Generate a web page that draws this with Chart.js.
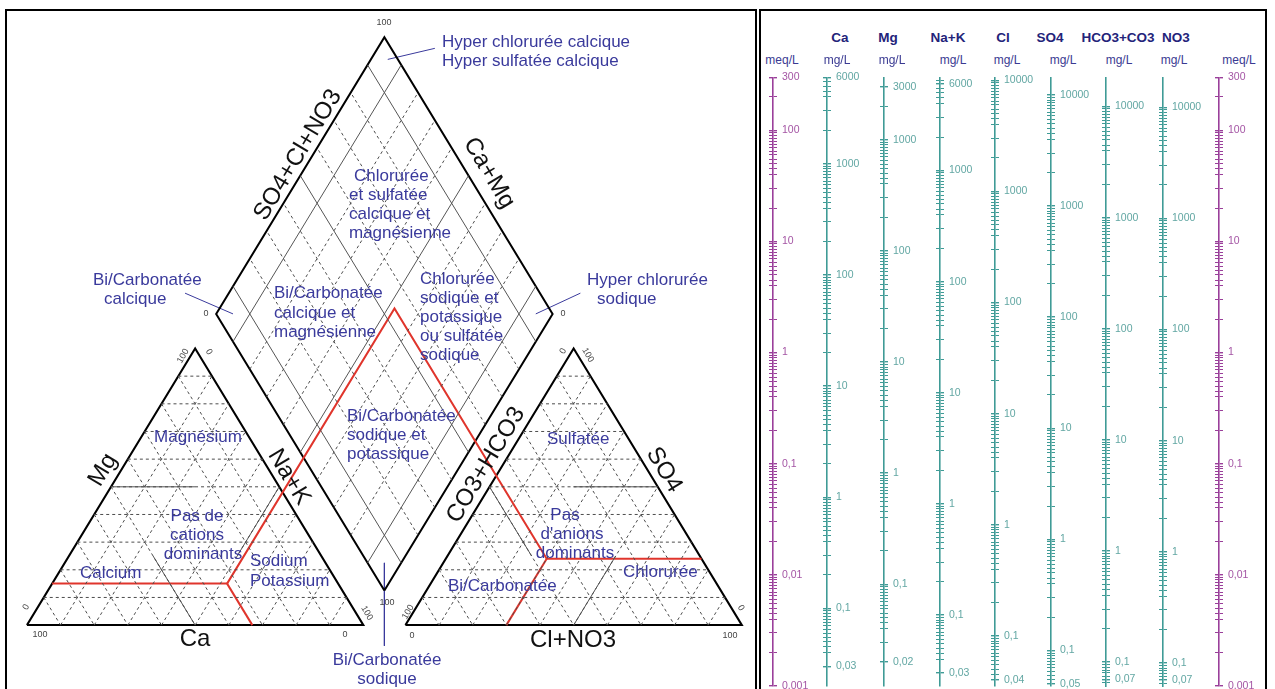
<!DOCTYPE html>
<html>
<head>
<meta charset="utf-8">
<title>Diagramme de Piper et échelles de conversion</title>
<script src="https://cdn.jsdelivr.net/npm/chart.js@4.4.1/dist/chart.umd.min.js"></script>
<style>
  html, body { margin: 0; padding: 0; background: #fff; }
  body { width: 1275px; height: 689px; overflow: hidden; position: relative;
         font-family: "Liberation Sans", Arial, sans-serif; }
  .frame { position: absolute; border: 2px solid #000; box-sizing: content-box; }
  #piperFrame { left: 5px; top: 9px; width: 748px; height: 700px; }
  #scaleFrame { left: 759px; top: 9px; width: 504px; height: 700px; }
  #piper { position: absolute; left: 0; top: 0; }
  .axisCanvas { position: absolute; }
  .ion { position: absolute; top: 30px; transform: translateX(-50%); font-weight: bold;
         font-size: 13.5px; color: #23237a; white-space: nowrap; }
  .unit { position: absolute; top: 53px; transform: translateX(-50%); font-size: 12px;
          color: #3a3a92; white-space: nowrap; }
</style>
</head>
<body>
<div id="piperFrame" class="frame"></div>
<div id="scaleFrame" class="frame"></div>
<canvas id="piper" width="757" height="689"></canvas>

<script>
// ---------------- Piper diagram (percentages of meq/L) ----------------
const gridPercents = [10, 20, 30, 40, 50, 60, 70, 80, 90];
const diamondMainLines = [10, 50, 90];
const diamondMinorLines = [20, 30, 40, 60, 70, 80];
const halfLine = 50;
const cationDivide = { ca: 33, mg: 15, nak: 52 };
const anionDivide = { hco3: 46, so4: 24, cl: 30 };

// ---------------- Conversion scales ----------------
const ionNames = ['', 'Ca', 'Mg', 'Na+K', 'Cl', 'SO4', 'HCO3+CO3', 'NO3', ''];
const unitNames = ['meq/L', 'mg/L', 'mg/L', 'mg/L', 'mg/L', 'mg/L', 'mg/L', 'mg/L', 'meq/L'];
const mgPerMeq = [1, 20.04, 12.15, 22.99, 35.45, 48.03, 61.02, 62.0, 1];
const meqSpan = [0.001, 300];
const tickMantissas = [1, 2, 3, 4, 4.5, 5, 5.5, 6, 6.5, 7, 7.5, 8, 8.5, 9, 9.5];
const labelledTicks = [
  [300, 100, 10, 1, 0.1, 0.01, 0.001],
  [6000, 1000, 100, 10, 1, 0.1, 0.03],
  [3000, 1000, 100, 10, 1, 0.1, 0.02],
  [6000, 1000, 100, 10, 1, 0.1, 0.03],
  [10000, 1000, 100, 10, 1, 0.1, 0.04],
  [10000, 1000, 100, 10, 1, 0.1, 0.05],
  [10000, 1000, 100, 10, 1, 0.1, 0.07],
  [10000, 1000, 100, 10, 1, 0.1, 0.07],
  [300, 100, 10, 1, 0.1, 0.01, 0.001]
];

// ---------------- layout (pixels) ----------------
const axisX = [773, 827, 884, 940, 995, 1051, 1106, 1163, 1219];
const ionX = [0, 840, 888, 948, 1003, 1050, 1118, 1176, 0];
const unitX = [782, 837, 892, 953, 1007, 1063, 1119, 1174, 1239];

// ---------------- ternary geometry ----------------
const H = Math.sqrt(3) / 2;
const GAP = 12.5;
const base = { x: 100 + GAP / 2, y: GAP * H };
const cationXY = (ca, mg, nak) => ({ x: nak + mg / 2, y: mg * H });
const anionXY = (hco3, so4, cl) => ({ x: 100 + GAP + cl + so4 / 2, y: so4 * H });
// a = Ca+Mg, b = SO4+Cl+NO3
const diamondXY = (a, b) => ({ x: base.x + (b - a) / 2, y: base.y + (a + b) * H });

const INK = '#000000';
const GRID = '#4d4d4d';
const RED = '#e0352c';
const NAVY = '#3a3a9c';

const datasets = [];
function line(points, style) {
  datasets.push(Object.assign({
    data: points, showLine: true, pointRadius: 0, fill: false,
    borderColor: GRID, borderWidth: 1, borderDash: []
  }, style));
}
const dashed = { borderColor: GRID, borderWidth: 1, borderDash: [3, 3] };
const solid = { borderColor: '#555555', borderWidth: 1 };

// triangle grids
gridPercents.forEach(v => {
  line([cationXY(100 - v, v, 0), cationXY(0, v, 100 - v)], dashed);
  line([cationXY(v, 100 - v, 0), cationXY(v, 0, 100 - v)], dashed);
  line([cationXY(100 - v, 0, v), cationXY(0, 100 - v, v)], dashed);
  line([anionXY(100 - v, v, 0), anionXY(0, v, 100 - v)], dashed);
  line([anionXY(v, 100 - v, 0), anionXY(v, 0, 100 - v)], dashed);
  line([anionXY(100 - v, 0, v), anionXY(0, 100 - v, v)], dashed);
});
// diamond grid
diamondMinorLines.forEach(v => {
  line([diamondXY(v, 0), diamondXY(v, 100)], dashed);
  line([diamondXY(0, v), diamondXY(100, v)], dashed);
});
diamondMainLines.forEach(v => {
  line([diamondXY(v, 0), diamondXY(v, 100)], solid);
  line([diamondXY(0, v), diamondXY(100, v)], solid);
});
// half-way segments inside the triangles
const h = halfLine, q = halfLine / 2;
line([cationXY(h, h, 0), cationXY(q, h, q)], solid);
line([cationXY(h, 0, h), cationXY(h, q, q)], solid);
line([cationXY(0, h, h), cationXY(q, q, h)], solid);
line([anionXY(0, h, h), anionXY(q, h, q)], solid);
line([anionXY(h, 0, h), anionXY(q, q, h)], solid);
line([anionXY(h, h, 0), anionXY(h, q, q)], solid);

// facies boundaries
const redStyle = { borderColor: RED, borderWidth: 2 };
const cJ = cationXY(cationDivide.ca, cationDivide.mg, cationDivide.nak);
const aJ = anionXY(anionDivide.hco3, anionDivide.so4, anionDivide.cl);
const peak = diamondXY(100 - cationDivide.nak, 100 - anionDivide.hco3);
line([cationXY(100 - cationDivide.mg, cationDivide.mg, 0), cJ], redStyle);
line([cJ, cationXY(cationDivide.ca, 0, 100 - cationDivide.ca)], redStyle);
line([cJ, peak, aJ], redStyle);
line([aJ, anionXY(0, anionDivide.so4, 100 - anionDivide.so4)], redStyle);
line([aJ, anionXY(100 - anionDivide.cl, 0, anionDivide.cl)], redStyle);

// outlines
const edge = { borderColor: INK, borderWidth: 2 };
line([cationXY(100, 0, 0), cationXY(0, 0, 100), cationXY(0, 100, 0), cationXY(100, 0, 0)], edge);
line([anionXY(100, 0, 0), anionXY(0, 0, 100), anionXY(0, 100, 0), anionXY(100, 0, 0)], edge);
line([diamondXY(0, 0), diamondXY(100, 0), diamondXY(100, 100), diamondXY(0, 100), diamondXY(0, 0)], edge);

// pointers to the corner facies
const pointer = { borderColor: NAVY, borderWidth: 1 };
line([diamondXY(95, 97), diamondXY(83, 113)], pointer);
line([diamondXY(95, 5), diamondXY(113, -5.5)], pointer);
line([diamondXY(5, 95), diamondXY(-4.5, 112)], pointer);
line([diamondXY(5, 5), diamondXY(-10, -10)], pointer);

// text drawn on the diagram
const F = '"Liberation Sans", Arial, sans-serif';
const T = (text, x, y, o) => Object.assign({ text, x, y, size: 17, color: NAVY, align: 'left', rot: 0, bold: false }, o || {});
const C = { align: 'center' };
const axisT = (text, x, y, rot) => T(text, x, y, { size: 24, color: '#111', align: 'center', rot });
const num = (text, x, y, rot) => T(text, x, y, { size: 9, color: '#444', align: 'center', rot: rot || 0 });
const piperTexts = [
  T('Hyper chlorurée calcique', 442, 42), T('Hyper sulfatée calcique', 442, 61),
  T('Chlorurée', 354, 176), T('et sulfatée', 349, 195), T('calcique et', 349, 214), T('magnésienne', 349, 233),
  T('Bi/Carbonatée', 274, 293), T('calcique et', 274, 313), T('magnésienne', 274, 332),
  T('Chlorurée', 420, 279), T('sodique et', 420, 298), T('potassique', 420, 317), T('ou sulfatée', 420, 336), T('sodique', 420, 355),
  T('Bi/Carbonatée', 347, 416), T('sodique et', 347, 435), T('potassique', 347, 454),
  T('Bi/Carbonatée', 93, 280), T('calcique', 104, 299),
  T('Hyper chlorurée', 587, 280), T('sodique', 597, 299),
  T('Bi/Carbonatée', 387, 660, C), T('sodique', 387, 679, C),
  T('Magnésium', 198, 437, C),
  T('Pas de', 197, 516, C), T('cations', 197, 535, C), T('dominants', 203, 554, C),
  T('Calcium', 80, 573), T('Sodium', 250, 561), T('Potassium', 250, 581),
  T('Sulfatée', 547, 439),
  T('Pas', 565, 515, C), T("d'anions", 572, 534, C), T('dominants', 575, 553, C),
  T('Chlorurée', 623, 572), T('Bi/Carbonatée', 448, 586),
  axisT('SO4+Cl+NO3', 298, 155, -59), axisT('Ca+Mg', 489, 173, 59),
  axisT('Mg', 103, 470, -59), axisT('Na+K', 289, 477, 59), axisT('Ca', 195, 639, 0),
  axisT('CO3+HCO3', 486, 465, -59), axisT('SO4', 664, 470, 59), axisT('Cl+NO3', 573, 640, 0),
  num('100', 384, 23), num('0', 206, 314), num('0', 563, 314), num('100', 387, 603),
  num('100', 183, 356, -60), num('0', 209, 352, 60), num('0', 26, 607, -60),
  num('100', 40, 635), num('0', 345, 635), num('100', 367, 613, 60),
  num('0', 563, 351, -60), num('100', 588, 355, 60), num('100', 408, 612, -60),
  num('0', 412, 636), num('100', 730, 636), num('0', 741, 608, 60)
];

const piperText = {
  id: 'piperText',
  afterDatasetsDraw(chart) {
    const ctx = chart.ctx;
    piperTexts.forEach(t => {
      ctx.save();
      ctx.translate(t.x, t.y);
      ctx.rotate(t.rot * Math.PI / 180);
      ctx.font = (t.bold ? 'bold ' : '') + t.size + 'px ' + F;
      ctx.fillStyle = t.color;
      ctx.textAlign = t.align;
      ctx.textBaseline = 'middle';
      ctx.fillText(t.text, 0, 0);
      ctx.restore();
    });
  }
};

new Chart(document.getElementById('piper'), {
  type: 'scatter',
  data: { datasets },
  options: {
    responsive: false, animation: false, devicePixelRatio: 1,
    layout: { padding: 0 },
    plugins: { legend: { display: false }, tooltip: { enabled: false } },
    elements: { line: { tension: 0 } },
    scales: {
      x: { type: 'linear', display: false, min: -8.0, max: 217.0 },
      y: { type: 'linear', display: false, min: -20.0, max: 195.7 }
    }
  },
  plugins: [piperText]
});

// ---------------- logarithmic conversion columns ----------------
const round = v => parseFloat(v.toPrecision(8));
const sameValue = (a, b) => Math.abs(a - b) <= Math.abs(b) * 1e-6;
const labelText = v => String(round(v)).replace('.', ',');

ionNames.forEach((ion, i) => {
  const min = round(meqSpan[0] * mgPerMeq[i]);
  const max = round(meqSpan[1] * mgPerMeq[i]);
  const isMeq = unitNames[i] === 'meq/L';
  const lineColor = isMeq ? '#9a3f9a' : '#3f9b96';
  const textColor = isMeq ? '#a455a4' : '#62a7a3';
  const values = [];
  for (let k = Math.floor(Math.log10(min)) - 1; k <= Math.ceil(Math.log10(max)); k++) {
    tickMantissas.forEach(m => {
      const v = round(m * Math.pow(10, k));
      if (v >= min * (1 - 1e-9) && v <= max * (1 + 1e-9)) values.push(v);
    });
  }
  values.sort((a, b) => a - b);
  const labels = labelledTicks[i];

  if (ion) {
    const d = document.createElement('div');
    d.className = 'ion'; d.textContent = ion; d.style.left = ionX[i] + 'px';
    document.body.appendChild(d);
  }
  const u = document.createElement('div');
  u.className = 'unit'; u.textContent = unitNames[i]; u.style.left = unitX[i] + 'px';
  document.body.appendChild(u);

  const canvas = document.createElement('canvas');
  canvas.className = 'axisCanvas';
  canvas.width = 56; canvas.height = 634;
  canvas.style.left = (axisX[i] - 4) + 'px';
  canvas.style.top = '66px';
  document.body.appendChild(canvas);

  new Chart(canvas, {
    type: 'scatter',
    data: { datasets: [] },
    options: {
      responsive: false, animation: false, devicePixelRatio: 1,
      layout: { padding: { top: 11, bottom: 14, left: 0, right: 0 } },
      plugins: { legend: { display: false }, tooltip: { enabled: false } },
      scales: {
        x: { type: 'linear', display: false, min: 0, max: 1 },
        y: {
          type: 'logarithmic', position: 'right', min, max, bounds: 'data',
          afterBuildTicks: s => { s.ticks = values.map(v => ({ value: v })); },
          afterFit: s => { s.width = 52; },
          border: { display: true, color: lineColor, width: 1.6 },
          grid: {
            drawOnChartArea: true, drawTicks: true, tickLength: 4, color: lineColor,
            lineWidth: c => (c.tick && labels.some(l => sameValue(c.tick.value, l))) ? 1.4 : 1
          },
          ticks: {
            autoSkip: false, padding: 5, color: textColor,
            font: { family: F, size: 10.5 },
            callback: v => labels.some(l => sameValue(v, l)) ? labelText(v) : ''
          }
        }
      }
    }
  });
});
</script>
</body>
</html>
